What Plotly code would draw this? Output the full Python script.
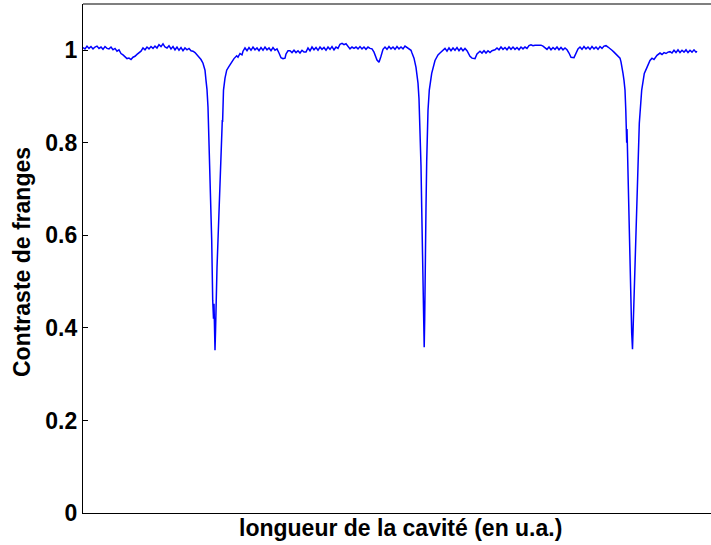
import plotly.graph_objects as go

# longueur de la cavité (u.a.)
x_vals = [
    0, 2, 4, 6, 8, 10, 12, 14, 16, 18, 20, 22, 24, 26, 28, 30, 32,
    34, 36, 38, 40, 42, 44, 46, 48, 50, 52, 54, 56, 58, 60, 62, 64, 66, 68, 70, 72, 74,
    76, 78, 80, 82, 84, 86, 88, 90, 92, 94, 96, 98, 100, 102, 104, 106, 108, 110, 112,
    114, 116, 118, 120, 121, 122, 123, 124, 125, 126, 127, 128, 128.7, 129.7, 130.5,
    131, 131.5, 132, 132.5, 133, 134, 135, 136, 137.7, 138.5, 139.3, 139.6, 140, 140.5,
    142, 143.7, 146, 148.7, 151, 153.7, 155, 157, 159, 160,
    162, 164, 166, 168, 170, 172, 174, 176, 178, 180, 182, 184, 186, 188, 190, 192, 194,
    196, 198, 200, 202, 203, 205,
    207, 209, 211, 213, 215, 217, 219, 221, 223,
    225, 227, 229, 231, 233, 235, 237, 239, 241, 243, 245, 247, 249, 251, 253, 255,
    257, 259, 261, 263,
    265, 267, 269, 271, 273, 275, 277, 279, 281, 283, 285, 287, 289,
    291, 294, 296, 298, 300,
    302, 304, 306, 308, 310, 312, 314, 316, 318, 320, 322, 324, 326, 328,
    329, 331, 333, 335, 336, 337, 338, 338.7, 339.7, 340.7, 341.2, 341.7, 342, 343,
    343.7, 344.3, 345, 346.3, 348.7, 352, 355, 357, 360,
    362, 364, 366, 368, 370, 372, 374, 376, 378, 380, 382, 384,
    387, 389, 392, 394,
    397, 399, 401, 403, 405, 407, 409,
    412, 414, 416, 418, 420, 422, 424, 426, 428, 430, 432, 434, 436, 438, 440, 442, 444,
    446, 448, 450, 452, 454, 456, 458, 460,
    462, 464, 466, 468, 470, 472, 474, 476, 478, 480, 482, 484,
    486, 488, 491, 493,
    495, 497, 499, 501, 503, 505, 507, 509, 511, 513, 515, 517, 519, 521, 523, 525, 527,
    529, 531, 533, 535, 537, 538, 539, 540, 541, 542, 542.8, 543.3, 543.7, 544, 544.5,
    544.7, 546, 547.3, 548.7, 549.5, 550.2, 551, 552.7, 554.7, 556.3, 558.7, 561.3, 564,
    567, 569, 571, 574, 577, 579, 581, 583, 585, 587, 589, 591, 593, 595, 597, 599, 601,
    603, 605, 607, 609, 611, 613, 614,
]

# contraste de franges
contraste = [
    1.006, 1.003, 1.009, 1.004, 1.008, 1.003, 1.007, 1.009, 1.004, 1.007, 1.002, 1.008, 1.004, 1.003, 1.007, 1.001, 1.004,
    0.998, 1.001, 0.993, 0.990, 0.985, 0.982, 0.983, 0.980, 0.985, 0.987, 0.991, 0.995, 0.998, 1.005, 1.001, 1.007, 1.003, 1.008, 1.004, 1.009, 1.005,
    1.012, 1.008, 1.014, 1.007, 1.005, 1.010, 1.003, 1.008, 1.001, 1.007, 1.000, 1.006, 0.999, 1.005, 1.001, 1.004, 0.999, 0.998, 0.995,
    0.990, 0.986, 0.980, 0.972, 0.965, 0.957, 0.935, 0.915, 0.877, 0.810, 0.734, 0.640, 0.590, 0.460, 0.420,
    0.452, 0.390, 0.352, 0.390, 0.460, 0.530, 0.590, 0.660, 0.734, 0.800, 0.849, 0.845, 0.890, 0.914,
    0.940, 0.957, 0.965, 0.975, 0.982, 0.988, 0.985, 0.993, 0.990, 0.998,
    1.005, 0.999, 1.006, 1.000, 1.007, 1.001, 1.005, 0.999, 1.006, 1.000, 1.007, 1.001, 1.005, 0.999, 1.006, 1.000, 1.003,
    0.994, 0.984, 0.982, 0.983, 0.992, 0.999,
    0.999, 0.995, 1.000, 0.995, 0.999, 0.994, 1.000, 0.996, 0.996,
    1.005, 0.999, 1.007, 1.001, 1.006, 1.000, 1.007, 1.002, 1.006, 1.000, 1.007, 1.002, 1.008, 1.001, 1.007, 1.004,
    1.013, 1.015, 1.012, 1.014,
    1.007, 1.003, 1.007, 1.004, 1.007, 1.003, 1.008, 1.003, 1.007, 1.002, 1.007, 1.004, 1.003,
    0.996, 0.979, 0.974, 0.987, 1.002,
    1.007, 1.002, 1.008, 1.003, 1.007, 1.002, 1.008, 1.003, 1.007, 1.003, 1.009, 1.006, 1.004, 1.000,
    0.994, 0.983, 0.963, 0.929, 0.895, 0.842, 0.750, 0.661, 0.518, 0.380, 0.358, 0.420, 0.518, 0.661,
    0.760, 0.821, 0.870, 0.914, 0.950, 0.978, 0.990, 0.994, 1.000,
    1.004, 0.998, 1.005, 0.999, 1.005, 1.000, 1.006, 0.999, 1.005, 0.999, 1.004, 0.999,
    0.987, 0.983, 0.982, 0.992,
    0.998, 0.994, 0.999, 0.994, 0.999, 0.995, 0.999,
    1.001, 1.005, 1.001, 1.007, 1.002, 1.006, 1.001, 1.007, 1.002, 1.007, 1.002, 1.006, 1.001, 1.007, 1.003, 1.007, 1.004,
    1.010, 1.012, 1.010, 1.011, 1.011, 1.010, 1.011, 1.009,
    1.006, 1.002, 1.007, 1.001, 1.006, 1.002, 1.007, 1.001, 1.006, 1.001, 1.005, 1.001,
    0.994, 0.985, 0.984, 0.995,
    1.003, 1.007, 1.002, 1.008, 1.003, 1.007, 1.002, 1.008, 1.003, 1.007, 1.002, 1.008, 1.004, 1.009, 1.010, 1.007, 1.004,
    1.000, 0.996, 0.992, 0.988, 0.983, 0.975, 0.965, 0.950, 0.935, 0.914, 0.870, 0.840, 0.800, 0.830, 0.780,
    0.719, 0.590, 0.482, 0.389, 0.354, 0.400, 0.445, 0.590, 0.734, 0.842, 0.914, 0.950, 0.963,
    0.978, 0.983, 0.980, 0.989, 0.994, 0.991, 0.995, 0.993, 0.996, 0.997, 0.994, 1.000, 0.995, 1.001, 0.995, 1.000, 0.996,
    1.001, 0.995, 1.000, 0.996, 1.001, 0.996, 0.998,
]

y_tick_vals = [0, 0.2, 0.4, 0.6, 0.8, 1]
y_tick_text = ["0", "0.2", "0.4", "0.6", "0.8", "1"]
x_title = "longueur de la cavité (en u.a.)"
y_title = "Contraste de franges"

FONT = "Liberation Sans, Arial, Helvetica, sans-serif"

fig = go.Figure()
fig.add_trace(go.Scatter(
    x=x_vals, y=contraste, mode="lines",
    line=dict(color="#0000ff", width=1.5),
    hoverinfo="skip", showlegend=False,
))

fig.update_layout(
    width=711, height=545,
    margin=dict(l=83, r=0, t=4, b=32),
    paper_bgcolor="white", plot_bgcolor="white",
    xaxis=dict(
        range=[0, 628], showgrid=False, zeroline=False,
        showticklabels=False, ticks="",
        showline=True, linecolor="black", linewidth=1.2,
    ),
    yaxis=dict(
        range=[0, 1.1], showgrid=False, zeroline=False,
        tickmode="array", tickvals=y_tick_vals, ticktext=y_tick_text,
        ticks="inside", ticklen=5, tickcolor="black", tickwidth=1,
        showline=True, linecolor="black", linewidth=1.2,
        tickfont=dict(family=FONT, size=23, color="black", weight="bold"),
    ),
    shapes=[dict(type="line", xref="paper", yref="paper", x0=0, x1=1, y0=1, y1=1,
                 line=dict(color="black", width=1.2))],
    annotations=[
        dict(text=x_title, xref="paper", yref="paper", x=(400 - 83) / 628, y=0,
             xanchor="center", yanchor="middle", yshift=-15, showarrow=False,
             font=dict(family=FONT, size=23, color="black", weight="bold")),
        dict(text=y_title, xref="paper", yref="paper", x=0, y=(513 - 262) / 509,
             xanchor="center", yanchor="middle", xshift=-61, textangle=-90, showarrow=False,
             font=dict(family=FONT, size=23, color="black", weight="bold")),
    ],
)

fig.write_html(
    "out.html",
    config={"displayModeBar": False},
    post_script="document.body.style.margin='0';document.body.style.padding='0';",
)
